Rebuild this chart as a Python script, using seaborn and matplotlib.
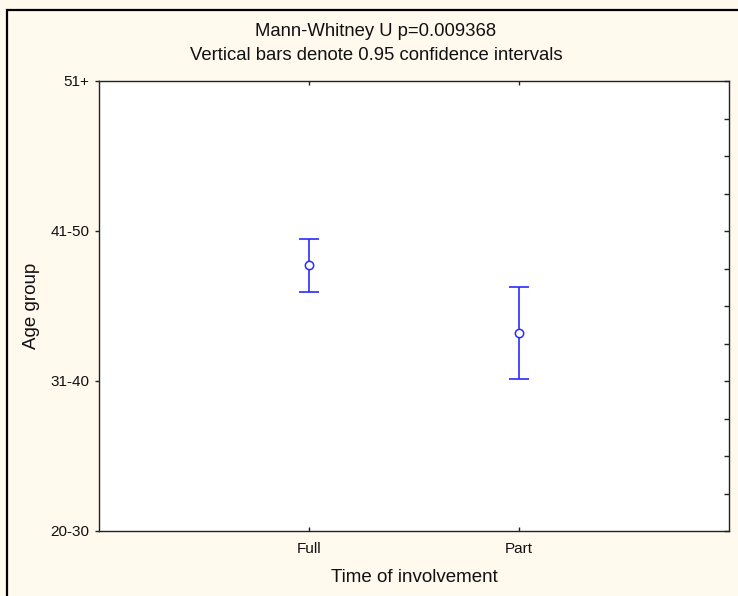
import numpy as np
import pandas as pd
import matplotlib
matplotlib.use("Agg")
import matplotlib.pyplot as plt
from matplotlib.patches import Rectangle
import seaborn as sns

# Group means and 0.95 confidence limits, on the age-group code scale (20-30 = 1 ... 51+ = 4)
groups = ["Full", "Part"]
means = [2.773, 2.320]
ci_low = [2.593, 2.013]
ci_high = [2.947, 2.627]
age_labels = ["20-30", "31-40", "41-50", "51+"]

df = pd.DataFrame({"group": groups, "mean": means, "lo": ci_low, "hi": ci_high})
df["pos"] = np.arange(1, len(groups) + 1)

sns.set_theme(style="white")
plt.rcParams["font.family"] = ["Liberation Sans", "DejaVu Sans"]

blue = "#2b2bff"
bg = "#fff9ee"

fig = plt.figure(figsize=(7.38, 5.96), dpi=100, facecolor=bg)
ax = fig.add_axes([99 / 738, 65 / 596, 630 / 738, 450 / 596])
ax.set_facecolor("white")

# confidence interval whiskers
ax.errorbar(df["pos"], df["mean"],
            yerr=[df["mean"] - df["lo"], df["hi"] - df["mean"]],
            fmt="none", ecolor=blue, elinewidth=1.2, capsize=7.5, capthick=1.2, zorder=2)
# group means
sns.scatterplot(data=df, x="pos", y="mean", ax=ax, marker="o", s=36,
                facecolor="white", edgecolor=blue, linewidth=1.1, zorder=3)

ax.set_xlim(0, 3)
ax.set_ylim(1, 4)
ax.set_xticks(df["pos"])
ax.set_xticklabels(groups)
ax.set_yticks(np.arange(1, len(age_labels) + 1))
ax.set_yticklabels(age_labels)

for s in ax.spines.values():
    s.set_visible(True)
    s.set_color("#222222")
    s.set_linewidth(1.0)

ax.tick_params(axis="y", which="major", direction="out", left=True, length=3,
               width=1, color="#222222", labelsize=11, pad=4, labelcolor="#111111")
ax.tick_params(axis="x", which="major", direction="in", bottom=True, length=3,
               width=1, color="#222222", labelsize=11, pad=8, labelcolor="#111111")

# inner ticks on the top and right frame
top = ax.secondary_xaxis("top")
top.set_xticks(df["pos"])
top.tick_params(direction="in", length=3, width=1, color="#222222", labelsize=0)
top.set_xticklabels([])
top.spines["top"].set_visible(False)
right = ax.secondary_yaxis("right")
right.set_yticks(np.arange(1, 4.001, 0.25))
right.tick_params(direction="in", length=3.5, width=1, color="#222222", labelsize=0)
right.set_yticklabels([])
right.spines["right"].set_visible(False)

ax.set_xlabel("Time of involvement", fontsize=13.5, color="#111111", va="center")
ax.set_ylabel("Age group", fontsize=13.5, color="#111111", va="center")
ax.xaxis.set_label_coords(0.5, (531 - 578) / 450)
ax.yaxis.set_label_coords((31 - 99) / 630, 0.5)

fig.text(376 / 738, 1 - 32 / 596, "Mann-Whitney U p=0.009368",
         ha="center", va="center", fontsize=13.3, color="#111111")
fig.text(376 / 738, 1 - 55 / 596, "Vertical bars denote 0.95 confidence intervals",
         ha="center", va="center", fontsize=13.3, color="#111111")

# outer frame
fig.patches.append(Rectangle((7 / 738, -0.2), 2.0, 1.2 - 10 / 596,
                             transform=fig.transFigure, fill=False,
                             edgecolor="black", linewidth=1.6, zorder=10))

fig.savefig("out.png", dpi=100, facecolor=bg)
